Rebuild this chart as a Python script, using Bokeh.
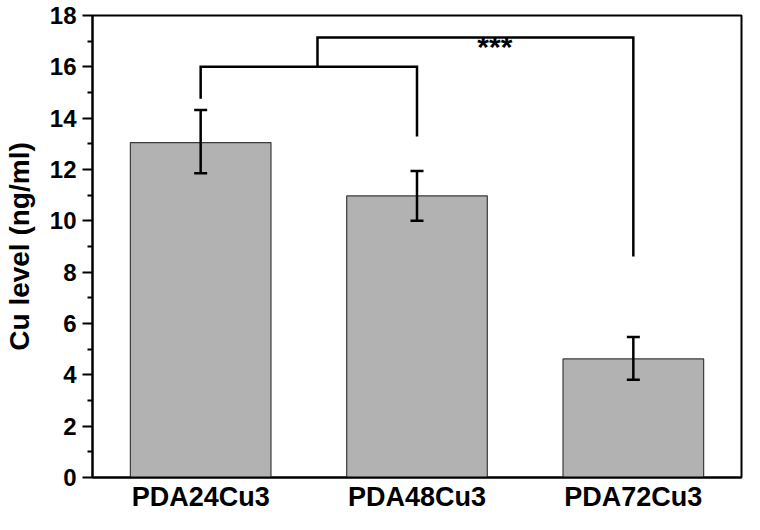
from bokeh.plotting import figure
from bokeh.models import Range1d, FixedTicker, Whisker, ColumnDataSource, TeeHead
from bokeh.embed import file_html
from bokeh.resources import INLINE
from bokeh.core.properties import value

# ---- data ----
categories = ["PDA24Cu3", "PDA48Cu3", "PDA72Cu3"]
positions = [1, 2, 3]
cu_level = [13.05, 10.97, 4.62]
err_upper = [14.32, 11.94, 5.47]
err_lower = [11.85, 10.00, 3.81]
y_ticks = [0, 2, 4, 6, 8, 10, 12, 14, 16, 18]
y_minor = [1, 3, 5, 7, 9, 11, 13, 15, 17]

# significance brackets
bracket1_x = [1, 1, 2, 2]
bracket1_y = [14.76, 16.0, 16.0, 13.29]
bracket2_x = [1.54, 1.54, 3, 3]
bracket2_y = [16.0, 17.14, 17.14, 8.61]
sig_text = ["***"]
sig_x = [2.36]
sig_y = [16.78]

FONT = "Liberation Sans"

p = figure(width=744, height=514, output_backend="svg", toolbar_location=None,
           x_range=Range1d(0.5, 3.5), y_range=Range1d(0, 18),
           min_border_left=90, min_border_right=3, min_border_top=15, min_border_bottom=30)
p.xgrid.visible = False
p.ygrid.visible = False
p.background_fill_color = "white"
p.border_fill_color = "white"
p.outline_line_color = "black"
p.outline_line_width = 2

src = ColumnDataSource(dict(x=positions, top=cu_level, upper=err_upper, lower=err_lower))
p.vbar(x="x", top="top", bottom=0, width=0.65, source=src,
       fill_color="#b2b2b2", line_color="#3a3a3a", line_width=1.2)

w = Whisker(base="x", upper="upper", lower="lower", source=src, level="overlay",
            line_color="black", line_width=2.5,
            upper_head=TeeHead(size=13, line_width=2.5, line_color="black"),
            lower_head=TeeHead(size=13, line_width=2.5, line_color="black"))
p.add_layout(w)

p.line(bracket1_x, bracket1_y, line_color="black", line_width=2.5, line_join="miter")
p.line(bracket2_x, bracket2_y, line_color="black", line_width=2.5, line_join="miter")
p.text(x=sig_x, y=sig_y, text=sig_text, text_font=value(FONT), text_font_style="bold",
       text_font_size="30px", text_align="center", text_baseline="alphabetic", text_color="black")

# y axis
p.yaxis.ticker = FixedTicker(ticks=y_ticks, minor_ticks=y_minor)
p.yaxis.axis_label = "Cu level (ng/ml)"
p.yaxis.axis_label_text_font = FONT
p.yaxis.axis_label_text_font_style = "bold"
p.yaxis.axis_label_text_font_size = "28px"
p.yaxis.axis_label_text_color = "black"
p.yaxis.axis_label_standoff = 12
p.yaxis.major_label_text_font = FONT
p.yaxis.major_label_text_font_style = "bold"
p.yaxis.major_label_text_font_size = "24px"
p.yaxis.major_label_text_color = "black"
p.yaxis.major_label_standoff = 6
p.yaxis.axis_line_width = 2
p.yaxis.axis_line_color = "black"
p.yaxis.major_tick_line_width = 2
p.yaxis.major_tick_line_color = "black"
p.yaxis.minor_tick_line_width = 2
p.yaxis.minor_tick_line_color = "black"
p.yaxis.major_tick_out = 10
p.yaxis.major_tick_in = 0
p.yaxis.minor_tick_out = 5
p.yaxis.minor_tick_in = 0

# x axis
p.xaxis.ticker = FixedTicker(ticks=positions, minor_ticks=[])
p.xaxis.major_label_overrides = {pos: name for pos, name in zip(positions, categories)}
p.xaxis.major_label_text_font = FONT
p.xaxis.major_label_text_font_style = "bold"
p.xaxis.major_label_text_font_size = "27px"
p.xaxis.major_label_text_color = "black"
p.xaxis.major_label_standoff = 4
p.xaxis.axis_line_width = 2
p.xaxis.axis_line_color = "black"
p.xaxis.major_tick_out = 0
p.xaxis.major_tick_in = 0
p.xaxis.minor_tick_line_color = None

open("out.html", "w").write(file_html(p, INLINE))
